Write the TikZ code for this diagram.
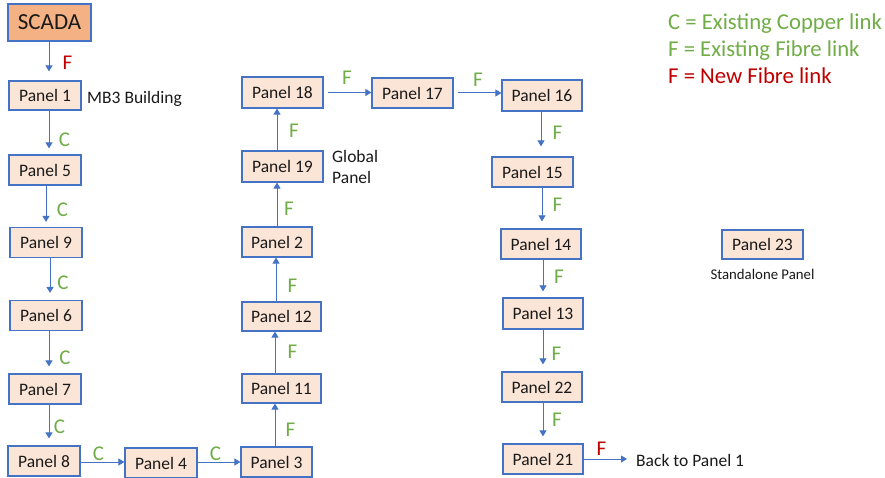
\documentclass[tikz,border=0pt]{standalone}
\usepackage{fontspec}
\setmainfont{Carlito}
\usetikzlibrary{arrows.meta}
\definecolor{bd}{HTML}{4472C4}
\definecolor{pf}{HTML}{FBE5D6}
\definecolor{sf}{HTML}{F4B183}
\definecolor{gr}{HTML}{70AD47}
\definecolor{rd}{HTML}{C00000}
\definecolor{tx}{HTML}{1A1A1A}
\begin{document}
\begin{tikzpicture}[x=1pt,y=-1pt,
  panel/.style={draw=bd, fill=pf, line width=1.2pt, minimum height=30pt, minimum width=80pt, inner sep=0pt, font=\fontsize{17.5}{20}\selectfont, text=tx},
  arr/.style={draw=bd, line width=1pt, -{Triangle[width=7pt,length=6pt]}},
  lbl/.style={inner sep=0pt, font=\fontsize{21}{24}\selectfont},
  cl/.style={lbl, text=gr},
  nf/.style={lbl, text=rd},
  note/.style={inner sep=0pt, font=\fontsize{17.5}{21}\selectfont, text=tx},
  legend/.style={inner sep=0pt, anchor=base west, font=\fontsize{22.7}{26}\selectfont}]
\useasboundingbox[fill=white] (0,0) rectangle (885,478);

% nodes
\node[panel, fill=sf, minimum width=83pt, minimum height=37pt, font=\fontsize{23}{26}\selectfont] (scada) at (49.5,22.5) {SCADA};
\node[panel, minimum width=72pt, minimum height=29pt] (p1) at (45,95.5) {Panel 1};
\node[panel, minimum width=72pt] (p5) at (45,170) {Panel 5};
\node[panel, minimum width=72pt] (p9) at (46,242.5) {Panel 9};
\node[panel, minimum width=72pt] (p6) at (46,315.5) {Panel 6};
\node[panel, minimum width=72pt] (p7) at (45,389) {Panel 7};
\node[panel, minimum width=72pt] (p8) at (44,461) {Panel 8};
\node[panel, minimum width=72pt] (p4) at (161,463) {Panel 4};
\node[panel, minimum width=71pt] (p3) at (276.5,462) {Panel 3};
\node[panel, minimum width=79pt, minimum height=29pt] (p11) at (281.5,388.5) {Panel 11};
\node[panel, minimum width=79pt, minimum height=29pt] (p12) at (281.5,316.5) {Panel 12};
\node[panel, minimum width=70pt] (p2) at (277,242) {Panel 2};
\node[panel, minimum width=81pt, minimum height=31pt] (p19) at (282.5,166.5) {Panel 19};
\node[panel, minimum width=81pt, minimum height=31pt] (p18) at (282.5,92.5) {Panel 18};
\node[panel, minimum width=81pt] (p17) at (412.5,93) {Panel 17};
\node[panel, minimum width=80pt, minimum height=31pt] (p16) at (542,95.5) {Panel 16};
\node[panel, minimum width=81pt] (p15) at (532.5,172) {Panel 15};
\node[panel, minimum width=80pt] (p14) at (541,244) {Panel 14};
\node[panel, minimum width=80pt, minimum height=31pt] (p13) at (543,313.5) {Panel 13};
\node[panel, minimum width=80pt] (p22) at (542,387) {Panel 22};
\node[panel, minimum width=80pt] (p21) at (543,459) {Panel 21};
\node[panel, minimum width=81pt, minimum height=29pt] (p23) at (762.5,244.5) {Panel 23};

% notes
\node[note, anchor=base west] (mb3) at (87,103.3) {MB3 Building};
\node[note, anchor=west, align=left] (glob) at (332,166.5) {Global\\Panel};
\node[note, anchor=base, font=\fontsize{14.8}{17}\selectfont] (stand) at (762.5,279) {Standalone Panel};
\node[note, anchor=base west] (back) at (636,466) {Back to Panel 1};

% legend
\node[legend, text=gr] (lg1) at (668,29.3) {C = Existing Copper link};
\node[legend, text=gr] (lg2) at (668,57) {F = Existing Fibre link};
\node[legend, text=rd] (lg3) at (668,83.5) {F = New Fibre link};

% column 1
\draw[arr, shorten >=9pt] (scada.south) ++(-0.5,0) coordinate (t) -- (t |- p1.north);
\draw[arr, shorten >=6pt] (p1.south) ++(4,0) coordinate (t) -- (t |- p5.north);
\draw[arr, shorten >=5pt] (p5.south) ++(1,0) coordinate (t) -- (t |- p9.north);
\draw[arr, shorten >=7pt] (p9.south) ++(4,0) coordinate (t) -- (t |- p6.north);
\draw[arr, shorten >=7pt] (p6.south) ++(3,0) coordinate (t) -- (t |- p7.north);
\draw[arr, shorten >=7pt] (p7.south) ++(4,0) coordinate (t) -- (t |- p8.north);
% bottom row
\draw[arr] (p8.east) ++(0,1) coordinate (t) -- (t -| p4.west);
\draw[arr] (p4.east) ++(0,-1) coordinate (t) -- (t -| p3.west);
% column 2 (upwards)
\draw[arr] (p3.north) ++(-1.5,0) coordinate (t) -- (t |- p11.south);
\draw[arr] (p11.north) ++(-6.5,0) coordinate (t) -- (t |- p12.south);
\draw[arr] (p12.north) ++(-5.5,0) coordinate (t) -- (t |- p2.south);
\draw[arr] (p2.north) coordinate (t) -- (t |- p19.south);
\draw[arr] (p19.north) ++(-5.5,0) coordinate (t) -- (t |- p18.south);
% top row
\draw[arr, shorten <=4pt] (p18.east) -- (p18.east -| p17.west);
\draw[arr, shorten <=4pt] (p17.east) -- (p17.east -| p16.west);
% column 3 (downwards)
\draw[arr, shorten >=10pt] (p16.south) ++(-1,0) coordinate (t) -- (t |- p15.north);
\draw[arr, shorten >=7pt] (p15.south) ++(9.5,0) coordinate (t) -- (t |- p14.north);
\draw[arr, shorten >=6pt] (p14.south) ++(2,0) coordinate (t) -- (t |- p13.north);
\draw[arr, shorten >=7pt] (p13.south) coordinate (t) -- (t |- p22.north);
\draw[arr, shorten >=7pt] (p22.south) ++(1,0) coordinate (t) -- (t |- p21.north);
\draw[arr, shorten >=9pt] (p21.east) -- (p21.east -| back.west);

% link labels
\node[nf] (l0) at (67.5,62.5) {F};
\node[cl] (l1) at (64.5,140) {C};
\node[cl] (l2) at (62.5,209.5) {C};
\node[cl] (l3) at (63,283) {C};
\node[cl] (l4) at (65,358) {C};
\node[cl] (l5) at (59.5,426.5) {C};
\node[cl] (l6) at (98.5,453.5) {C};
\node[cl] (l7) at (215.5,453.5) {C};
\node[cl] (l8) at (290.5,429.5) {F};
\node[cl] (l9) at (292.5,352) {F};
\node[cl] (l10) at (292.5,286) {F};
\node[cl] (l11) at (289,208.5) {F};
\node[cl] (l12) at (294,131) {F};
\node[cl] (l13) at (347,77.5) {F};
\node[cl] (l14) at (478,80) {F};
\node[cl] (l15) at (557.5,133) {F};
\node[cl] (l16) at (557.5,205) {F};
\node[cl] (l17) at (559,276.5) {F};
\node[cl] (l18) at (556.5,353.5) {F};
\node[cl] (l19) at (557,420) {F};
\node[nf] (l20) at (601.5,448.5) {F};
\end{tikzpicture}
\end{document}
